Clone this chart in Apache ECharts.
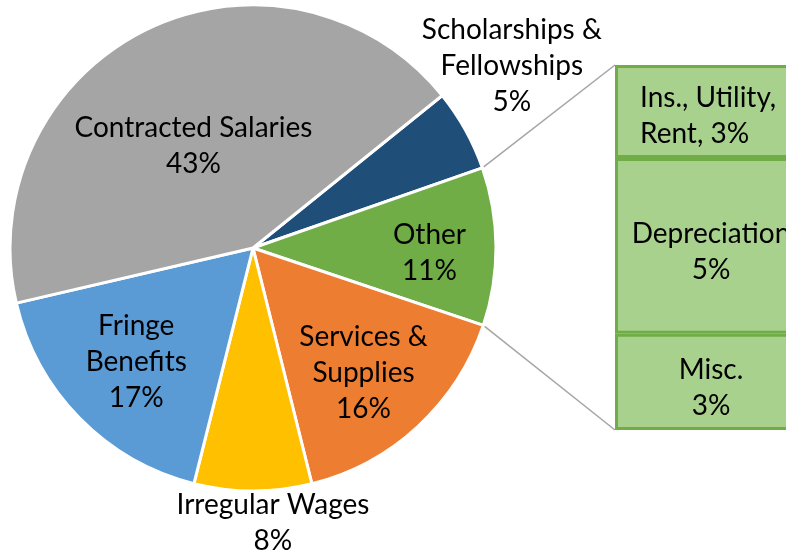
<!DOCTYPE html>
<html><head><meta charset="utf-8">
<script src="https://cdn.jsdelivr.net/npm/echarts@6/dist/echarts.min.js"></script>
<style>html,body{margin:0;padding:0;background:#fff}#c{width:786px;height:550px}</style>
</head><body><div id="c"></div>
<script>
// ---- data ----
const pieNames = ["Scholarships &\nFellowships", "Other", "Services &\nSupplies", "Irregular Wages", "Fringe\nBenefits", "Contracted Salaries"];
const pieValues = [5.45, 10.5, 15.95, 7.8, 17.45, 42.85];
const barNames = ["Misc.", "Depreciation", "Ins., Utility,\nRent"];
const barValues = [2.9, 5.3, 2.8];

// ---- styles ----
const FONT = 'Lato';
const FS = 28;
const pieColors = ['#1F4E79', '#70AD47', '#ED7D31', '#FFC000', '#5B9BD5', '#A5A5A5'];
const pieLabelOffsets = [[150, -122], [52, 6], [26, 34], [20, 150], [-28, 27], [-5, 10]];
const CENTER = [253, 248], RADIUS = 243, START = 38.86;
const GRID = {left: 636, top: 65, right: 0, height: 365};
const BAR_W = 192;

const pieData = pieNames.map((n, i) => ({
  name: n, value: pieValues[i],
  itemStyle: {color: pieColors[i]},
  label: {offset: pieLabelOffsets[i]}
}));

const barSeries = barNames.map((n, i) => ({
  type: 'bar', name: n, stack: 'o', barWidth: BAR_W, clip: false,
  data: [barValues[i]],
  itemStyle: {color: '#A9D18E', borderColor: '#70AD47', borderWidth: 3},
  label: {
    show: true,
    position: i === 2 ? [25, '50%'] : 'inside',
    align: i === 2 ? 'left' : 'center',
    verticalAlign: 'middle',
    offset: i === 2 ? [0, 5] : [0, 6],
    fontFamily: FONT, fontSize: FS, lineHeight: 36, color: '#000',
    formatter: p => i === 2 ? `${n}, ${Math.round(p.value)}%` : `${n}\n${Math.round(p.value)}%`
  },
  emphasis: {disabled: true}
}));

const chart = echarts.init(document.getElementById('c'), null, {renderer: 'canvas'});
const total = barValues.reduce((a, b) => a + b, 0);
chart.setOption({
  animation: false,
  backgroundColor: '#fff',
  grid: {left: GRID.left, top: GRID.top, right: GRID.right, height: GRID.height, containLabel: false},
  xAxis: {type: 'category', data: ['x'], show: false},
  yAxis: {type: 'value', min: 0, max: total, show: false},
  series: [{
    type: 'pie', center: CENTER, radius: RADIUS, startAngle: START, clockwise: true,
    data: pieData,
    itemStyle: {borderColor: '#fff', borderWidth: 3},
    label: {show: true, position: 'inside', formatter: p => `${p.name}\n${Math.round(p.value)}%`, fontFamily: FONT, fontSize: FS, lineHeight: 36, color: '#000', align: 'center'},
    labelLine: {show: false},
    emphasis: {disabled: true}
  }].concat(barSeries)
});

// connector lines from edges of "Other" slice to bar corners
const pieTotal = pieValues.reduce((a, b) => a + b, 0);
const a1 = (START - pieValues[0] / pieTotal * 360) * Math.PI / 180;
const a2 = (START - (pieValues[0] + pieValues[1]) / pieTotal * 360) * Math.PI / 180;
const p1 = [CENTER[0] + RADIUS * Math.cos(a1), CENTER[1] - RADIUS * Math.sin(a1)];
const p2 = [CENTER[0] + RADIUS * Math.cos(a2), CENTER[1] - RADIUS * Math.sin(a2)];
const yTop = chart.convertToPixel({yAxisIndex: 0}, total);
const yBot = chart.convertToPixel({yAxisIndex: 0}, 0);
const xL = chart.convertToPixel({xAxisIndex: 0}, 'x') - BAR_W / 2;
chart.setOption({graphic: [
  {type: 'line', shape: {x1: p1[0], y1: p1[1], x2: xL, y2: yTop}, style: {stroke: '#A5A5A5', lineWidth: 1.5}, z: 0},
  {type: 'line', shape: {x1: p2[0], y1: p2[1], x2: xL, y2: yBot}, style: {stroke: '#A5A5A5', lineWidth: 1.5}, z: 0}
]});
</script></body></html>
